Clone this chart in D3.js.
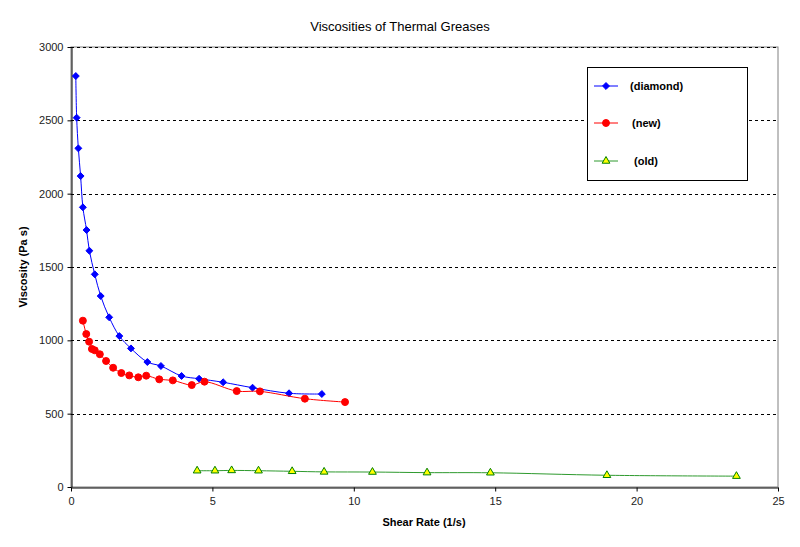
<!DOCTYPE html>
<html><head><meta charset="utf-8">
<script src="https://cdn.jsdelivr.net/npm/d3@7"></script>
<style>body{margin:0;background:#fff}svg{display:block}text{font-family:Arial,"Liberation Sans",sans-serif}</style>
</head><body>
<svg id="c" width="800" height="547"></svg>
<script>
const title = "Viscosities of Thermal Greases";
const xLabel = "Shear Rate (1/s)";
const yLabel = "Viscosity (Pa s)";
const xTicks = [0, 5, 10, 15, 20, 25];
const yTicks = [0, 500, 1000, 1500, 2000, 2500, 3000];
const seriesNames = ["(diamond)", "(new)", "(old)"];

const diamondX = [0.17, 0.2, 0.26, 0.34, 0.42, 0.55, 0.65, 0.84, 1.05, 1.35, 1.71, 2.12, 2.70, 3.18, 3.91, 4.53, 5.38, 6.42, 7.71, 8.87];
const diamondY = [2802, 2518, 2309, 2120, 1907, 1752, 1611, 1450, 1302, 1157, 1029, 945, 852, 825, 757, 738, 714, 677, 639, 634];

const newX = [0.42, 0.54, 0.64, 0.74, 0.84, 1.02, 1.24, 1.49, 1.78, 2.06, 2.38, 2.66, 3.12, 3.60, 4.27, 4.72, 5.86, 6.68, 8.27, 9.69];
const newY = [1134, 1043, 991, 941, 932, 905, 859, 813, 777, 761, 748, 759, 734, 727, 695, 718, 654, 652, 602, 579];

const oldX = [4.46, 5.09, 5.68, 6.63, 7.82, 8.95, 10.66, 12.59, 14.83, 18.95, 23.53];
const oldY = [111, 111, 113, 111, 107, 103, 102, 98, 97, 80, 74];

const svg = d3.select("#c");
const L = 71, R = 778, T = 47, B = 487;
const x = d3.scaleLinear().domain([0, 25]).range([L, R]);
const y = d3.scaleLinear().domain([0, 3000]).range([B, T]);

svg.append("rect").attr("x", L).attr("y", T).attr("width", R - L).attr("height", B - T)
  .attr("fill", "none").attr("stroke", "#808080").attr("stroke-width", 1);

svg.append("g").selectAll("line").data(yTicks.filter(d => d > 0)).join("line")
  .attr("x1", L).attr("x2", R).attr("y1", d => Math.round(y(d)) + 0.5).attr("y2", d => Math.round(y(d)) + 0.5)
  .attr("stroke", "#000").attr("stroke-dasharray", "3,3").attr("stroke-width", 1);

const yAxis = svg.append("g").attr("transform", `translate(${L + 0.5},0)`)
  .call(d3.axisLeft(y).tickValues(yTicks).tickSize(4).tickSizeOuter(0).tickPadding(4).tickFormat(d3.format("d")));
const xAxis = svg.append("g").attr("transform", `translate(0,${B + 0.5})`)
  .call(d3.axisBottom(x).tickValues(xTicks).tickSize(4).tickSizeOuter(0).tickPadding(6).tickFormat(d3.format("d")));
[xAxis, yAxis].forEach(a => {
  a.select(".domain").attr("stroke", "#000");
  a.selectAll(".tick line").attr("stroke", "#000");
  a.selectAll("text").attr("font-size", 11).attr("fill", "#222").attr("font-family", "Arial, 'Liberation Sans', sans-serif");
});

svg.append("text").attr("x", 400).attr("y", 31).attr("text-anchor", "middle").attr("font-size", 13).attr("fill", "#000").text(title);
svg.append("text").attr("x", 424).attr("y", 526).attr("text-anchor", "middle").attr("font-size", 11).attr("font-weight", "bold").text(xLabel);
svg.append("text").attr("transform", `translate(27,${(T + B) / 2}) rotate(-90)`).attr("text-anchor", "middle").attr("font-size", 11).attr("font-weight", "bold").text(yLabel);

const diamondSym = { draw(ctx, size) { const r = Math.sqrt(size / 2); ctx.moveTo(0, -r); ctx.lineTo(r, 0); ctx.lineTo(0, r); ctx.lineTo(-r, 0); ctx.closePath(); } };

const line = d3.line().x(d => x(d[0])).y(d => y(d[1])).curve(d3.curveCatmullRom.alpha(0.5));
const series = [
  {name: seriesNames[0], pts: d3.zip(diamondX, diamondY), stroke: "#0000ff", fill: "#0000ff", sym: diamondSym, size: 24, mstroke: "#0000ff"},
  {name: seriesNames[1], pts: d3.zip(newX, newY), stroke: "#ff0000", fill: "#ff0000", sym: d3.symbolCircle, size: 38, mstroke: "#ff0000"},
  {name: seriesNames[2], pts: d3.zip(oldX, oldY), stroke: "#2e9a2e", fill: "#ffff00", sym: d3.symbolTriangle, size: 26, mstroke: "#008000"}
];
series.forEach(s => {
  svg.append("path").datum(s.pts).attr("d", line).attr("fill", "none").attr("stroke", s.stroke).attr("stroke-width", 1);
  svg.append("g").selectAll("path").data(s.pts).join("path")
    .attr("transform", d => `translate(${x(d[0])},${y(d[1])})`)
    .attr("d", d3.symbol(s.sym, s.size)).attr("fill", s.fill).attr("stroke", s.mstroke).attr("stroke-width", 1);
});

const lg = svg.append("g");
lg.append("rect").attr("x", 587.5).attr("y", 67.5).attr("width", 160).attr("height", 113).attr("fill", "#fff").attr("stroke", "#000");
const ly = [86, 123, 161], lx = [630, 632, 634];
series.forEach((s, i) => {
  lg.append("line").attr("x1", 594).attr("x2", 618).attr("y1", ly[i]).attr("y2", ly[i]).attr("stroke", s.stroke);
  lg.append("path").attr("transform", `translate(606,${ly[i]})`).attr("d", d3.symbol(s.sym, s.size)).attr("fill", s.fill).attr("stroke", s.mstroke);
  lg.append("text").attr("x", lx[i]).attr("y", ly[i] + 4).attr("font-size", 11).attr("font-weight", "bold").text(s.name);
});
</script>
</body></html>
